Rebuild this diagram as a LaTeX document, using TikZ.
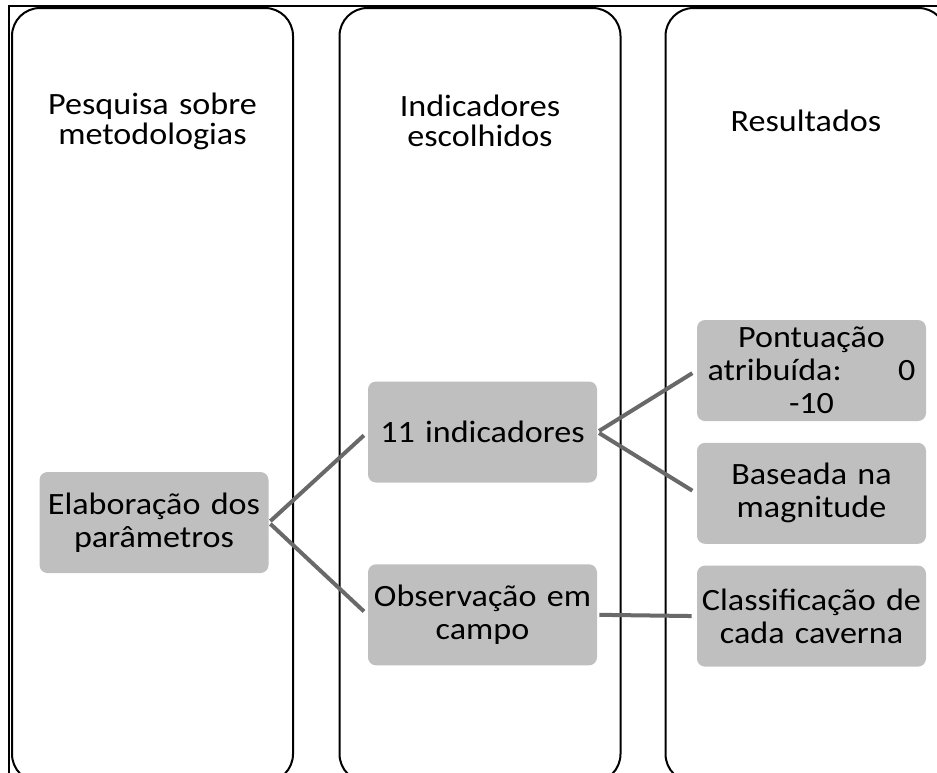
\documentclass[tikz,border=0pt]{standalone}
\usepackage{fontspec}
\setmainfont{Carlito}
\newfontfamily\boxfont{Carlito}[FakeStretch=1.1]
\usetikzlibrary{positioning}
\definecolor{boxgray}{RGB}{191,191,191}
\definecolor{linegray}{RGB}{105,105,105}
\tikzset{x=0.5pt, y=-0.5pt, node distance=10.5pt,
        coluna/.style={draw, line width=1pt, rounded corners=14pt, minimum width=140.5pt, minimum height=387pt, inner sep=0pt},
        titulo/.style={align=center, text width=130pt, font=\boxfont\fontsize{15.5}{15}\selectfont},
        caixa/.style={fill=boxgray, rounded corners=4pt, minimum width=114.5pt, minimum height=50.5pt, inner sep=1pt, align=center, text width=112pt, font=\boxfont\fontsize{15.5}{16.5}\selectfont},
        liga/.style={draw=linegray, line width=2pt, shorten <=1pt, shorten >=2.5pt},}

\begin{document}
\begin{tikzpicture}
        \path[use as bounding box, clip] (0,0) rectangle (937,772);
        \draw[line width=0.75pt] (9,6) rectangle (980,800);

        \node[coluna] (c1) at (152.5,395) {};
        \node[coluna] (c2) at (480,395) {};
        \node[coluna] (c3) at (806,395) {};

        \node[titulo] (t1) at (152.5,121) {Pesquisa sobre\\metodologias};
        \node[titulo] (t2) at (480,121) {Indicadores\\escolhidos};
        \node[titulo] (t3) at (806,121) {Resultados};

        \node[caixa] (elab) at (154,522.5) {Elaboração dos\\parâmetros};
        \node[caixa] (ind) at (482.5,432) {11 indicadores};
        \node[caixa, below=40.5pt of ind] (obs) {Observação em\\campo};
        \node[caixa] (pont) at (811.5,370.5) {Pontuação\\\makebox[104pt]{atribuída:\hfill 0}\\-10};
        \node[caixa, below=of pont] (base) {Baseada na\\magnitude};
        \node[caixa, below=of base] (clas) {Classificação de\\cada caverna};

        \draw[liga] (elab.east) edge (ind.west)
                    (elab.east) edge (obs.west)
                    (ind.east) edge (pont.west)
                    (ind.east) edge (base.west)
                    (obs.east) edge (clas.west);
\end{tikzpicture}
\end{document}
